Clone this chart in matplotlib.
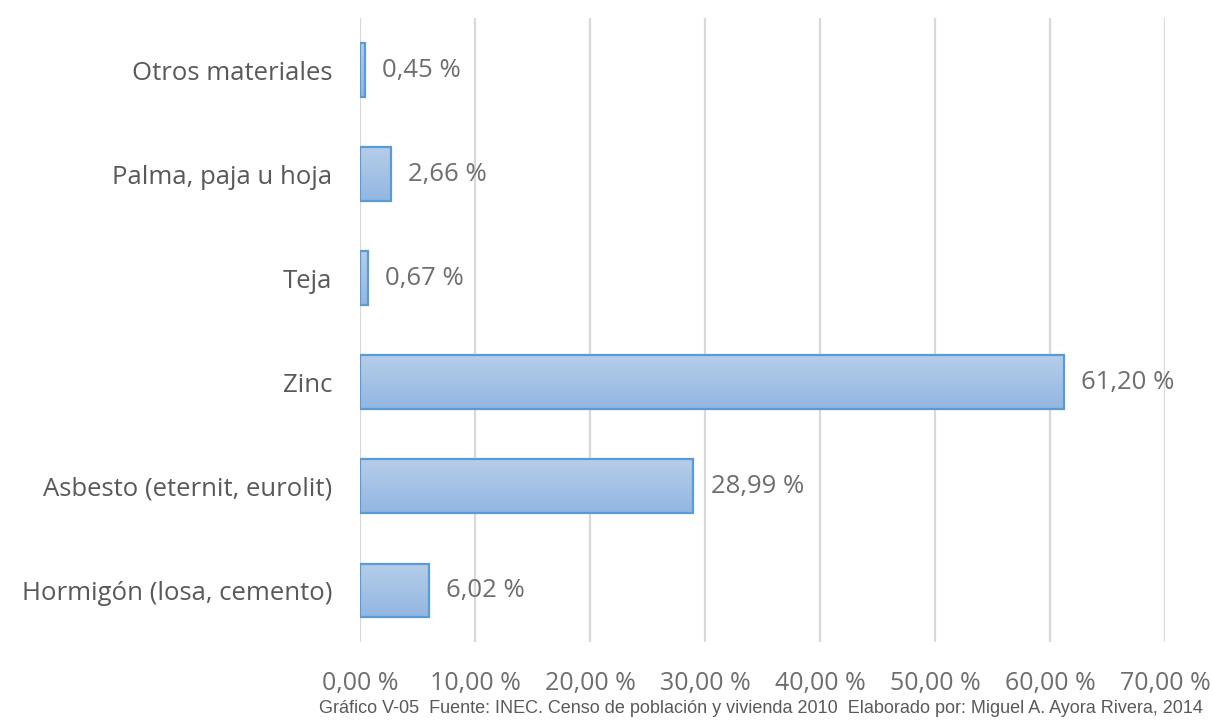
import matplotlib.pyplot as plt
import numpy as np
from matplotlib.colors import LinearSegmentedColormap

categorias = ["Hormigón (losa, cemento)", "Asbesto (eternit, eurolit)", "Zinc",
              "Teja", "Palma, paja u hoja", "Otros materiales"]
valores = [6.02, 28.99, 61.20, 0.67, 2.66, 0.45]
ticks_x = [0, 10, 20, 30, 40, 50, 60, 70]

fuente = "Gráfico V-05  Fuente: INEC. Censo de población y vivienda 2010  Elaborado por: Miguel A. Ayora Rivera, 2014"

gris = "#595959"
gris2 = "#6e6e6e"
plt.rcParams["font.family"] = ["Open Sans", "DejaVu Sans"]

fig = plt.figure(figsize=(12.13, 7.2), dpi=100)
ax = fig.add_axes([0.2968, 0.1083, 0.6636, 0.8667])

y = np.arange(len(categorias))
barras = ax.barh(y, valores, height=0.51, color="#a5c2e6", edgecolor="#5b9bd5",
                 linewidth=1.6, zorder=3)

# degradado dentro de cada barra (claro arriba, mas oscuro abajo)
cmap = LinearSegmentedColormap.from_list("azul", ["#b5cde9", "#93b7e2"])
grad = np.linspace(0, 1, 100).reshape(-1, 1)
for b in barras:
    x0, y0 = b.get_x(), b.get_y()
    w, h = b.get_width(), b.get_height()
    im = ax.imshow(grad, cmap=cmap, aspect="auto", extent=[x0, x0 + w, y0, y0 + h],
                   zorder=3.5, interpolation="bicubic")
    im.set_clip_path(b)
    b.set_facecolor("none")
    b.set_zorder(4)

for i, v in enumerate(valores):
    ax.text(v + 1.5, i, f"{v:.2f} %".replace(".", ","), va="center", ha="left",
            fontsize=18.5, color=gris2)

ax.set_xlim(0, 70)
ax.set_ylim(-0.5, len(categorias) - 0.5)
ax.set_xticks(ticks_x)
ax.set_xticklabels([f"{t:.2f} %".replace(".", ",") for t in ticks_x])
ax.set_yticks(y)
ax.set_yticklabels(categorias)
ax.tick_params(axis="x", length=0, pad=21, labelsize=18, labelcolor=gris2)
ax.tick_params(axis="y", length=0, pad=20, labelsize=18.5, labelcolor=gris)
ax.grid(axis="x", color="#d9d9d9", linewidth=1.6, zorder=0)
ax.set_axisbelow(True)
for s in ax.spines.values():
    s.set_visible(False)

fig.text(0.627, 0.004, fuente, ha="center", va="bottom", fontsize=13, color=gris,
         family=["Liberation Sans", "DejaVu Sans"])

fig.savefig("out.png", dpi=100)
